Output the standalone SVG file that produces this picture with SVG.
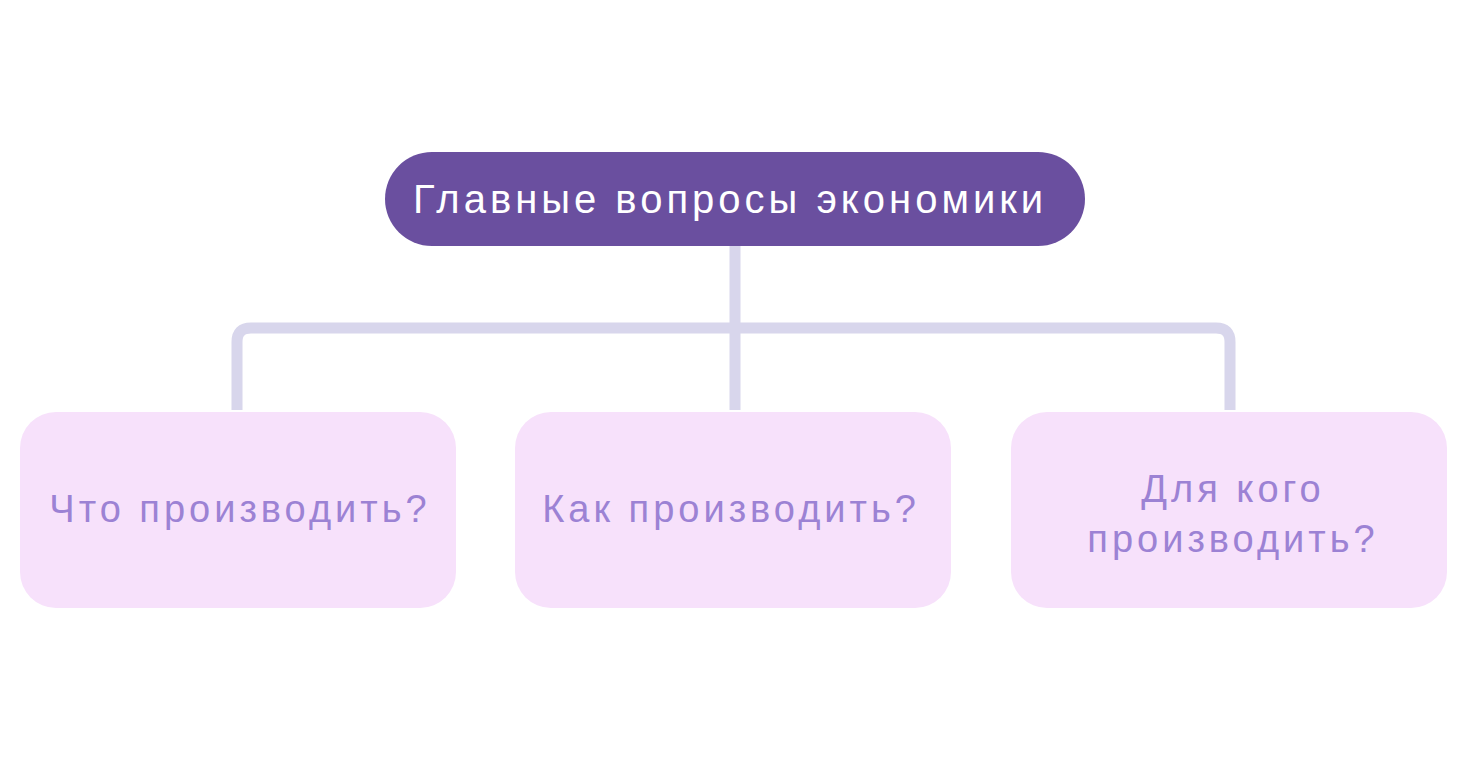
<svg xmlns="http://www.w3.org/2000/svg" width="1468" height="767" viewBox="0 0 1468 767">
<style>
.root{fill:#6a4f9f}
.child{fill:#f7e1fb}
.rt{font-family:"Liberation Sans",Arial,sans-serif;font-size:40px;fill:#ffffff;letter-spacing:4px}
.ct{font-family:"Liberation Sans",Arial,sans-serif;font-size:38px;fill:#9c82d4;letter-spacing:4px}
.conn{fill:none;stroke:#d8d6ec;stroke-width:11;stroke-linejoin:round}
</style>
<rect width="1468" height="767" fill="#ffffff"/>
<g id="connectors">
<path class="conn" d="M735 246 V410"/>
<path class="conn" d="M237 410 V342 Q237 328 251 328 H1216 Q1230 328 1230 342 V410"/>
</g>
<g id="root">
<rect class="root" x="385" y="152" width="700" height="94" rx="47"/>
<text class="rt" x="730" y="213" text-anchor="middle">Главные вопросы экономики</text>
</g>
<g id="n1">
<rect class="child" x="20" y="412" width="436" height="196" rx="36"/>
<text class="ct" x="240" y="522" text-anchor="middle">Что производить?</text>
</g>
<g id="n2">
<rect class="child" x="515" y="412" width="436" height="196" rx="36"/>
<text class="ct" x="731" y="522" text-anchor="middle">Как производить?</text>
</g>
<g id="n3">
<rect class="child" x="1011" y="412" width="436" height="196" rx="36"/>
<text class="ct" x="1233" y="502" text-anchor="middle">Для кого</text>
<text class="ct" x="1233" y="552" text-anchor="middle">производить?</text>
</g>
</svg>
